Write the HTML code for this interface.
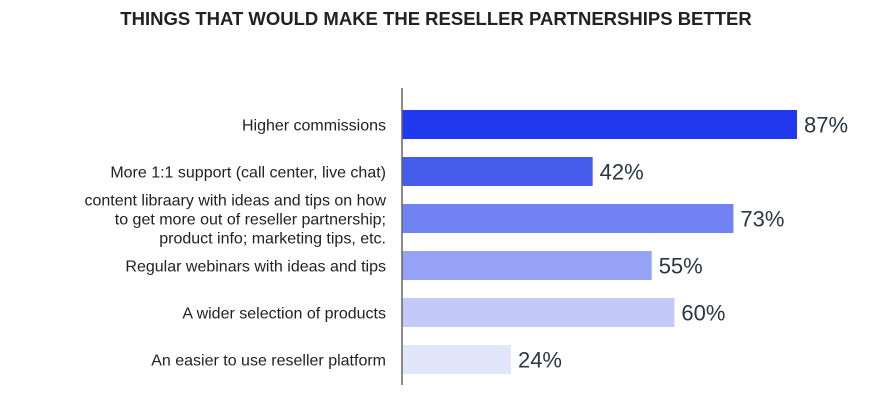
<!DOCTYPE html>
<html><head><meta charset="utf-8"><style>
body{margin:0;background:#fff;width:870px;height:400px;overflow:hidden;font-family:"Liberation Sans",sans-serif}
</style></head><body>
<svg width="870" height="400">
<text x="436" y="25" text-anchor="middle" font-size="18.5" font-weight="bold" fill="#222">THINGS THAT WOULD MAKE THE RESELLER PARTNERSHIPS BETTER</text>
<g id="bars"></g>
<line x1="402" y1="88" x2="402" y2="385" stroke="#666" stroke-width="1.5"/>
</svg>
<script>
const categories=[["Higher commissions"],["More 1:1 support (call center, live chat)"],["content libraary with ideas and tips on how","to get more out of reseller partnership;","product info; marketing tips, etc."],["Regular webinars with ideas and tips"],["A wider selection of products"],["An easier to use reseller platform"]];
const values=[87,42,73,55,60,24];
const valueLabels=["87%","42%","73%","55%","60%","24%"];
const colors=["#2039ee","#465ced","#7182f2","#96a2f5","#c3caf8","#e2e6fb"];
const NS="http://www.w3.org/2000/svg";
const g=document.getElementById("bars");
const x0=402, scale=4.54;
const xs=v=>x0+v*scale;
const yTop=i=>110+i*47;
const bh=29;
values.forEach((v,i)=>{
 const r=document.createElementNS(NS,"rect");
 r.setAttribute("x",x0);r.setAttribute("y",yTop(i));
 r.setAttribute("width",xs(v)-x0);r.setAttribute("height",bh);
 r.setAttribute("fill",colors[i]);
 
 
 g.appendChild(r);
 const t=document.createElementNS(NS,"text");
 t.setAttribute("x",xs(v)+7);t.setAttribute("y",yTop(i)+bh/2+8);
 t.setAttribute("font-size","22");t.setAttribute("fill","#2b3645");
 t.textContent=valueLabels[i];
 
 
 g.appendChild(t);
 const lines=categories[i];
 const lh=19;
 lines.forEach((ln,j)=>{
  const c=document.createElementNS(NS,"text");
  c.setAttribute("x",386);
  c.setAttribute("y",yTop(i)+bh/2+6+(j-(lines.length-1)/2)*lh);
  c.setAttribute("text-anchor","end");c.setAttribute("font-size","16");c.setAttribute("fill","#222");
  c.textContent=ln;
  
  
  g.appendChild(c);
 });
});
</script>
</body></html>
